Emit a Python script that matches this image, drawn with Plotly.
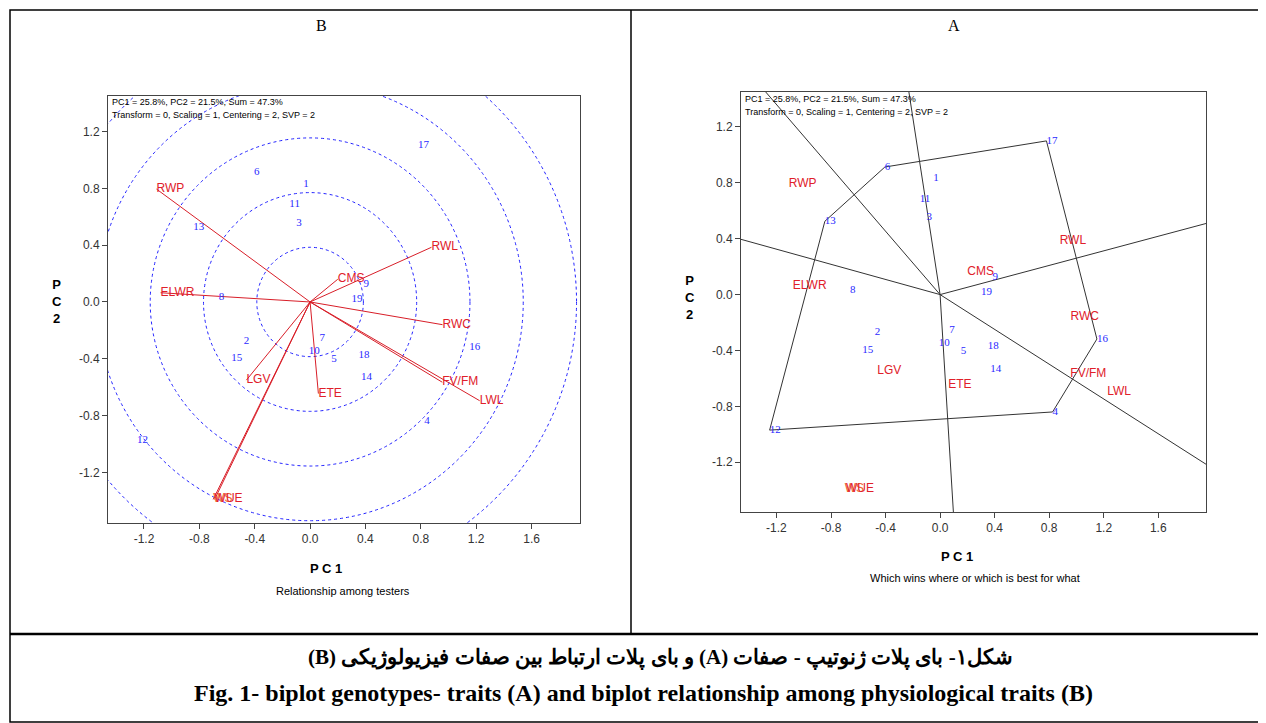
import numpy as np
import plotly.graph_objects as go

# ---------------- data ----------------
genotypes = [str(i) for i in range(1, 20)]
gen_pc1 = [-0.05, -0.48, -0.10, 0.825, 0.152, -0.405, 0.068, -0.66, 0.385, -0.01,
           -0.15, -1.25, -0.845, 0.367, -0.57, 1.15, 0.78, 0.35, 0.30]
gen_pc2 = [0.83, -0.273, 0.555, -0.84, -0.405, 0.913, -0.255, 0.03, 0.125, -0.35,
           0.685, -0.97, 0.525, -0.533, -0.395, -0.318, 1.10, -0.373, 0.02]

traits = ["RWP", "ELWR", "CMS", "RWL", "RWC", "FV/FM", "LWL", "ETE", "LGV", "WS", "WUE"]
trait_pc1 = [-1.11, -1.08, 0.20, 0.877, 0.957, 0.955, 1.225, 0.06, -0.46, -0.70, -0.69]
trait_pc2 = [0.795, 0.065, 0.16, 0.385, -0.16, -0.565, -0.695, -0.645, -0.55, -1.39, -1.39]
trait_colors = ["#e0202a"] * 9 + ["#f06030", "#e0202a"]

hull_order = ["17", "16", "4", "12", "13", "6", "17"]   # polygon (which-won-where)
ring_step = 0.385
n_rings = 5

x_ticks = [-1.2, -0.8, -0.4, 0.0, 0.4, 0.8, 1.2, 1.6]
x_tick_labels = ["-1.2", "-0.8", "-0.4", "0.0", "0.4", "0.8", "1.2", "1.6"]
y_ticks = [-1.2, -0.8, -0.4, 0.0, 0.4, 0.8, 1.2]
y_tick_labels = ["-1.2", "-0.8", "-0.4", "0.0", "0.4", "0.8", "1.2"]
x_range = [-1.46, 1.95]
y_range = [-1.556, 1.45]

# page body has an 8px margin: figure is offset by 8px inside the window
OFF = 8
W, H = 1266 - OFF, 723 - OFF
def px(x): return (x - OFF) / W
def py(y): return 1 - (y - OFF) / H

fig = go.Figure()

BLUE = "#2a2aff"
SERIF = "Liberation Serif, Times New Roman, serif"
SANS = "Liberation Sans, Arial, sans-serif"

# ---------- Left (B): relationship among testers ----------
for x, y in zip(trait_pc1, trait_pc2):
    fig.add_trace(go.Scatter(x=[0, x], y=[0, y], mode="lines",
                             line=dict(color="#d81e28", width=1),
                             xaxis="x", yaxis="y", showlegend=False, hoverinfo="skip"))

fig.add_trace(go.Scatter(x=gen_pc1, y=gen_pc2, mode="text", text=genotypes,
                         textposition="middle right",
                         textfont=dict(family=SERIF, size=11, color=BLUE),
                         xaxis="x", yaxis="y", showlegend=False, hoverinfo="skip"))
fig.add_trace(go.Scatter(x=trait_pc1, y=trait_pc2, mode="text", text=traits,
                         textposition="middle right",
                         textfont=dict(family=SANS, size=12, color=trait_colors),
                         xaxis="x", yaxis="y", showlegend=False, hoverinfo="skip"))

shapes = []
for k in range(1, n_rings + 1):
    r = ring_step * k
    shapes.append(dict(type="circle", xref="x", yref="y", x0=-r, x1=r, y0=-r, y1=r,
                       line=dict(color="#2222ff", width=1, dash="dot"), layer="below"))

# ---------- Right (A): which won where ----------
gidx = {g: i for i, g in enumerate(genotypes)}
hx = [gen_pc1[gidx[g]] for g in hull_order]
hy = [gen_pc2[gidx[g]] for g in hull_order]
fig.add_trace(go.Scatter(x=hx, y=hy, mode="lines", line=dict(color="#333", width=1),
                         xaxis="x2", yaxis="y2", showlegend=False, hoverinfo="skip"))

# rays perpendicular from origin to each polygon side
for i in range(len(hull_order) - 1):
    ax_, ay_ = hx[i], hy[i]
    bx_, by_ = hx[i + 1], hy[i + 1]
    dx, dy = bx_ - ax_, by_ - ay_
    t = -(ax_ * dx + ay_ * dy) / (dx * dx + dy * dy)
    fx, fy = ax_ + t * dx, ay_ + t * dy
    n = np.hypot(fx, fy)
    ex, ey = fx / n * 6, fy / n * 6
    fig.add_trace(go.Scatter(x=[0, ex], y=[0, ey], mode="lines",
                             line=dict(color="#333", width=1),
                             xaxis="x2", yaxis="y2", showlegend=False, hoverinfo="skip"))

fig.add_trace(go.Scatter(x=gen_pc1, y=gen_pc2, mode="text", text=genotypes,
                         textposition="middle right",
                         textfont=dict(family=SERIF, size=11, color=BLUE),
                         xaxis="x2", yaxis="y2", showlegend=False, hoverinfo="skip"))
fig.add_trace(go.Scatter(x=trait_pc1, y=trait_pc2, mode="text", text=traits,
                         textposition="middle right",
                         textfont=dict(family=SANS, size=12, color=trait_colors),
                         xaxis="x2", yaxis="y2", showlegend=False, hoverinfo="skip"))

axis_common = dict(showgrid=False, zeroline=False, showline=True, mirror=True,
                   linecolor="#444", linewidth=1, ticks="outside", ticklen=5,
                   tickcolor="#444",
                   tickfont=dict(family=SANS, size=12, color="#333"))

fig.update_layout(
    width=W, height=H, margin=dict(l=0, r=0, t=0, b=0),
    paper_bgcolor="white", plot_bgcolor="white",
    xaxis=dict(domain=[px(108), px(580)], range=x_range, tickvals=x_ticks, ticktext=x_tick_labels,
               anchor="y", **axis_common),
    yaxis=dict(domain=[py(523), py(96)], range=y_range, tickvals=y_ticks, ticktext=y_tick_labels,
               anchor="x", **axis_common),
    xaxis2=dict(domain=[px(741), px(1206)], range=x_range, tickvals=x_ticks, ticktext=x_tick_labels,
                anchor="y2", **axis_common),
    yaxis2=dict(domain=[py(512), py(92)], range=y_range, tickvals=y_ticks, ticktext=y_tick_labels,
                anchor="x2", **axis_common),
)

# table lines
shapes += [
    dict(type="rect", xref="paper", yref="paper", x0=px(10), x1=px(1265), y0=py(722), y1=py(10),
         line=dict(color="black", width=1.5)),
    dict(type="line", xref="paper", yref="paper", x0=px(631), x1=px(631), y0=py(10), y1=py(634),
         line=dict(color="black", width=1.5)),
    dict(type="line", xref="paper", yref="paper", x0=px(10), x1=px(1265), y0=py(634), y1=py(634),
         line=dict(color="black", width=2.5)),
]
fig.update_layout(shapes=shapes)

def ann(x, y, text, size, family=SANS, color="black", bold=False, xanchor="center"):
    if bold:
        text = "<b>" + text + "</b>"
    return dict(x=px(x), y=py(y), xref="paper", yref="paper", text=text, showarrow=False,
                xanchor=xanchor, yanchor="middle", font=dict(family=family, size=size, color=color))

info1 = "PC1 = 25.8%, PC2 = 21.5%, Sum = 47.3%"
info2 = "Transform = 0, Scaling = 1, Centering = 2, SVP = 2"
persian = "\u202bشکل۱- بای پلات ژنوتیپ - صفات (A) و بای پلات ارتباط بین صفات فیزیولوژیکی (B)\u202c"
english = "Fig. 1- biplot genotypes- traits (A) and biplot relationship among physiological traits (B)"

annotations = [
    ann(321, 25, "B", 16, SERIF),
    ann(954, 25, "A", 16, SERIF),
    ann(110, 102, info1, 9, xanchor="left"),
    ann(110, 115, info2, 9, xanchor="left"),
    ann(743, 99, info1, 9, xanchor="left"),
    ann(743, 112, info2, 9, xanchor="left"),
    ann(326, 568, "P C 1", 13, bold=True),
    ann(343, 591, "Relationship among testers", 11),
    ann(957, 556, "P C 1", 13, bold=True),
    ann(975, 578, "Which wins where or which is best for what", 11),
    ann(57, 302, "P<br>C<br>2", 13, bold=True),
    ann(690, 297, "P<br>C<br>2", 13, bold=True),
    ann(660, 657, persian, 21, SERIF, bold=True),
    ann(643, 693, english, 24, SERIF, bold=True),
]
fig.update_layout(annotations=annotations)

fig.write_html("out.html")
